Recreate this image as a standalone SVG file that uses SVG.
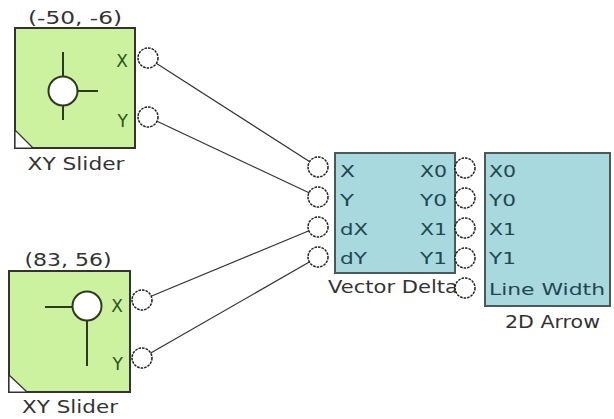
<svg xmlns="http://www.w3.org/2000/svg" width="614" height="419" viewBox="0 0 614 419">
<style>
  .slider { fill: #ccf29f; stroke: #333; stroke-width: 2; }
  .blue { fill: #a7d9de; stroke: #4a5a5a; stroke-width: 2; }
  .port { fill: #fff; stroke: #222; stroke-width: 1.5; stroke-dasharray: 2.6 1; }
  .knob { fill: #fff; stroke: #2b3a20; stroke-width: 2; }
  .tick { stroke: #2b3a20; stroke-width: 2; fill: none; }
  .corner { fill: #fff; stroke: #333; stroke-width: 1.2; }
  .wire { stroke: #333; stroke-width: 1.2; fill: none; }
  text { font-family: "DejaVu Sans", "Liberation Sans", sans-serif; font-size: 16px; }
  .title { fill: #333; font-size: 17px; }
  .glab { fill: #2f5220; font-size: 17px; }
  .blab { fill: #23474f; }
</style>

<g id="connectors">
  <line class="wire" x1="148" y1="58" x2="318" y2="167"/>
  <line class="wire" x1="148" y1="117" x2="318" y2="197"/>
  <line class="wire" x1="142" y1="300" x2="318" y2="227"/>
  <line class="wire" x1="142" y1="358" x2="318" y2="257"/>
</g>

<g id="slider1">
  <text class="title" x="75" y="24" text-anchor="middle" textLength="94" lengthAdjust="spacingAndGlyphs">(-50, -6)</text>
  <rect class="slider" x="15" y="28" width="120" height="120"/>
  <polygon class="corner" points="15,130 15,148 33,148"/>
  <line class="tick" x1="63" y1="52" x2="63" y2="120"/>
  <line class="tick" x1="63" y1="91" x2="98" y2="91"/>
  <circle class="knob" cx="63" cy="91" r="14.5"/>
  <text class="glab" x="128" y="67" text-anchor="end">X</text>
  <text class="glab" x="128" y="127" text-anchor="end">Y</text>
  <circle class="port" cx="148" cy="58" r="10"/>
  <circle class="port" cx="148" cy="117" r="10"/>
  <text class="title" x="76" y="170" text-anchor="middle" textLength="97" lengthAdjust="spacingAndGlyphs">XY Slider</text>
</g>

<g id="slider2">
  <text class="title" x="68" y="266" text-anchor="middle" textLength="87" lengthAdjust="spacingAndGlyphs">(83, 56)</text>
  <rect class="slider" x="9" y="271" width="121" height="121"/>
  <polygon class="corner" points="9,375 9,392 27,392"/>
  <line class="tick" x1="45" y1="307" x2="87" y2="307"/>
  <line class="tick" x1="87" y1="307" x2="87" y2="366"/>
  <circle class="knob" cx="87" cy="306" r="14.5"/>
  <text class="glab" x="123" y="312" text-anchor="end">X</text>
  <text class="glab" x="123" y="370" text-anchor="end">Y</text>
  <circle class="port" cx="142" cy="300" r="10"/>
  <circle class="port" cx="142" cy="358" r="10"/>
  <text class="title" x="70" y="413" text-anchor="middle" textLength="96" lengthAdjust="spacingAndGlyphs">XY Slider</text>
</g>

<g id="vector-delta">
  <rect class="blue" x="335" y="153" width="120" height="120"/>
  <circle class="port" cx="318" cy="167" r="10"/>
  <circle class="port" cx="318" cy="197" r="10"/>
  <circle class="port" cx="318" cy="227" r="10"/>
  <circle class="port" cx="318" cy="257" r="10"/>
  <text class="blab" x="340" y="177" textLength="15" lengthAdjust="spacingAndGlyphs">X</text>
  <text class="blab" x="340" y="206" textLength="14" lengthAdjust="spacingAndGlyphs">Y</text>
  <text class="blab" x="340" y="235" textLength="28" lengthAdjust="spacingAndGlyphs">dX</text>
  <text class="blab" x="340" y="264" textLength="27" lengthAdjust="spacingAndGlyphs">dY</text>
  <text class="blab" x="420" y="177" textLength="27" lengthAdjust="spacingAndGlyphs">X0</text>
  <text class="blab" x="420" y="206" textLength="27" lengthAdjust="spacingAndGlyphs">Y0</text>
  <text class="blab" x="420" y="235" textLength="27" lengthAdjust="spacingAndGlyphs">X1</text>
  <text class="blab" x="420" y="264" textLength="27" lengthAdjust="spacingAndGlyphs">Y1</text>
  <text class="title" x="328" y="293" textLength="130" lengthAdjust="spacingAndGlyphs">Vector Delta</text>
</g>

<g id="arrow-2d">
  <rect class="blue" x="485" y="153" width="125" height="153"/>
  <circle class="port" cx="465" cy="168" r="10"/>
  <circle class="port" cx="465" cy="198" r="10"/>
  <circle class="port" cx="465" cy="228" r="10"/>
  <circle class="port" cx="465" cy="258" r="10"/>
  <circle class="port" cx="465" cy="288" r="10"/>
  <text class="blab" x="489" y="177" textLength="27" lengthAdjust="spacingAndGlyphs">X0</text>
  <text class="blab" x="489" y="206" textLength="27" lengthAdjust="spacingAndGlyphs">Y0</text>
  <text class="blab" x="489" y="235" textLength="27" lengthAdjust="spacingAndGlyphs">X1</text>
  <text class="blab" x="489" y="264" textLength="27" lengthAdjust="spacingAndGlyphs">Y1</text>
  <text class="blab" x="489" y="295" textLength="116" lengthAdjust="spacingAndGlyphs">Line Width</text>
  <text class="title" x="505" y="328" textLength="95" lengthAdjust="spacingAndGlyphs">2D Arrow</text>
</g>
</svg>
